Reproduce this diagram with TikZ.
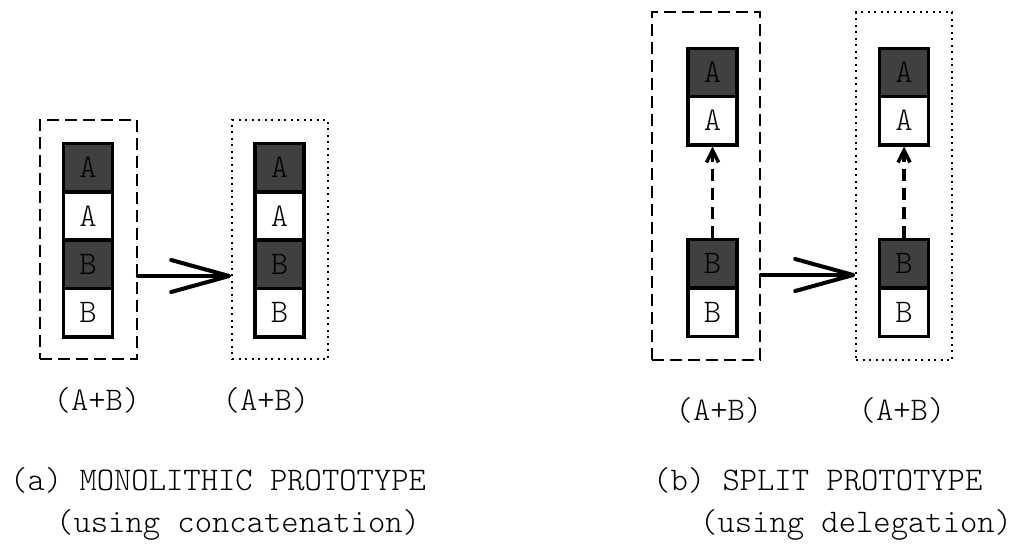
\documentclass[tikz,border=0pt]{standalone}
\usepackage{fontspec}
\setmonofont{Latin Modern Mono Light}
\usetikzlibrary{arrows.meta}

\begin{document}
\begin{tikzpicture}[
      x=1pt, y=-1pt,
      font=\fontsize{33}{38}\selectfont\ttfamily,
      cell/.style={rectangle, draw, line width=3.5pt, minimum width=49pt,
      minimum height=48.5pt, inner sep=0pt},
      dark/.style={cell, fill=black!75},
      lite/.style={cell, fill=white},
      dashbox/.style={draw, line width=1.6pt, dash pattern=on 12pt off 6pt},
      dotbox/.style={draw, line width=1.6pt, dash pattern=on 2pt off 4.5pt},
      morph/.style={line width=4pt, line cap=round,
      -{Straight Barb[length=58pt, width=32pt, round]}},
      deleg/.style={line width=3.5pt, dash pattern=on 12pt off 7pt,
      -{Straight Barb[length=12pt, width=12pt]}},
      captxt/.style={anchor=west, inner sep=0pt}
    ]
    \useasboundingbox (0,0) rectangle (1014,558);

    % (a) monolithic: boxes
    \node[dashbox, minimum width=97pt, minimum height=239pt] (monoL) at (88.5,239.5) {};
    \node[dotbox, minimum width=96pt, minimum height=239pt] (monoR) at (280,239.5) {};

    % (a) cells, left
    \node[dark] (la1) at (88, 167.5) {A};
    \node[lite] (la2) at (88, 216)   {A};
    \node[dark] (lb1) at (88, 264)   {B};
    \node[lite] (lb2) at (88, 312.5) {B};
    % (a) cells, right
    \node[dark] (ra1) at (279.5, 167.5) {A};
    \node[lite] (ra2) at (279.5, 216)   {A};
    \node[dark] (rb1) at (279.5, 264)   {B};
    \node[lite] (rb2) at (279.5, 312.5) {B};

    \draw[morph] ([yshift=-36.5pt]monoL.east) -- ([yshift=-36.5pt]monoR.west);

    \node (sumLa) at (97, 400)  {(A+B)};
    \node (sumRa) at (266, 400) {(A+B)};

    % (b) split: boxes
    \node[dashbox, minimum width=108pt, minimum height=348pt] (splitL) at (706,186) {};
    \node[dotbox, minimum width=96pt, minimum height=348pt] (splitR) at (904,186) {};

    % (b) cells, left
    \node[dark] (sa1) at (712.5, 72.5)  {A};
    \node[lite] (sa2) at (712.5, 120.5) {A};
    \node[dark] (sb1) at (712.5, 263.5) {B};
    \node[lite] (sb2) at (712.5, 312)   {B};
    % (b) cells, right
    \node[dark] (ta1) at (904, 72.5)  {A};
    \node[lite] (ta2) at (904, 120.5) {A};
    \node[dark] (tb1) at (904, 263.5) {B};
    \node[lite] (tb2) at (904, 312)   {B};

    \draw[deleg] (sb1.north) -- (sa2.south);
    \draw[deleg] (tb1.north) -- (ta2.south);

    \draw[morph] ([yshift=-89pt]splitL.east) -- ([yshift=-89pt]splitR.west);

    \node (sumLb) at (719, 410) {(A+B)};
    \node (sumRb) at (902, 410) {(A+B)};

    % captions
    \node[captxt] (capA1) at (10, 480)  {(a) MONOLITHIC PROTOTYPE};
    \node[captxt] (capA2) at (56, 525)  {(using concatenation)};
    \node[captxt] (capB1) at (653, 480) {(b) SPLIT PROTOTYPE};
    \node[captxt] (capB2) at (700, 525) {(using delegation)};

  \end{tikzpicture}
\end{document}
